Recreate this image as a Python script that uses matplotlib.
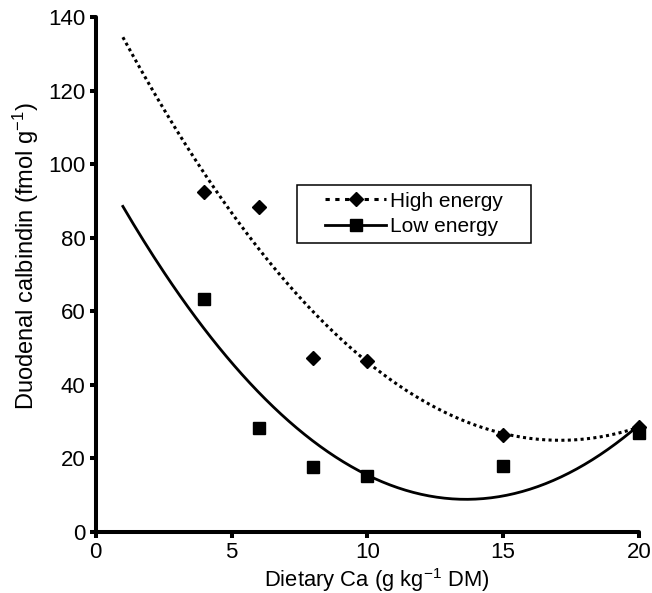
import numpy as np
import matplotlib
matplotlib.use("Agg")
import matplotlib.pyplot as plt
from matplotlib.patches import Rectangle

plt.rcParams['font.family'] = ['Liberation Sans', 'DejaVu Sans']
plt.rcParams['mathtext.fontset'] = 'custom'
plt.rcParams['mathtext.rm'] = 'Liberation Sans'
plt.rcParams['mathtext.it'] = 'Liberation Sans:italic'

# dietary Ca levels (g/kg DM)
ca_levels = [4, 6, 8, 10, 15, 20]
# duodenal calbindin (fmol/g)
high_energy = [92.5, 88.3, 47.3, 46.3, 26.3, 28.6]
low_energy = [63.3, 28.3, 17.5, 15.2, 17.8, 26.8]

# quadratic fits, coefficients highest power first
high_fit = [0.4232, -14.47, 148.55]
low_fit = [0.499, -13.61, 101.6]
fit_range = (1, 20)

fig = plt.figure(figsize=(6.52, 5.93), dpi=100)
ax = fig.add_axes([0.1468, 0.1034, 0.8332, 0.8679])

xs = np.linspace(fit_range[0], fit_range[1], 200)
ax.plot(xs, np.polyval(high_fit, xs), color='black', lw=2.2,
        linestyle=(0, (1, 1.1)), dash_capstyle='butt')
ax.plot(xs, np.polyval(low_fit, xs), color='black', lw=2.0)

ax.plot(ca_levels, high_energy, 'D', color='black', ms=7, clip_on=False)
ax.plot(ca_levels, low_energy, 's', color='black', ms=8, clip_on=False)

# legend box drawn separately so the side padding can be wider than the top
box = (0.371, 0.5615, 0.43, 0.1125)
ax.add_patch(Rectangle(box[:2], box[2], box[3], transform=ax.transAxes,
                       facecolor='white', edgecolor='black', lw=1.1, zorder=4))

h_high, = ax.plot([], [], color='black', lw=2.2, linestyle=(0, (1.4, 1.8)),
                  dash_capstyle='butt', marker='D', ms=7)
h_low, = ax.plot([], [], color='black', lw=2.0, marker='s', ms=8)
leg = ax.legend([h_high, h_low], ['High energy', 'Low energy'],
                loc='center',
                bbox_to_anchor=(box[0] + box[2] / 2, box[1] + box[3] / 2),
                fontsize=15, frameon=False, numpoints=1,
                handlelength=2.9, handletextpad=0.2, labelspacing=0.3,
                borderpad=0, borderaxespad=0)
leg.set_zorder(5)

ax.set_xlim(0, 20)
ax.set_ylim(0, 140)
ax.set_xticks([0, 5, 10, 15, 20])
ax.set_yticks(range(0, 141, 20))

for side in ['top', 'right']:
    ax.spines[side].set_visible(False)
for side in ['left', 'bottom']:
    ax.spines[side].set_linewidth(2.9)
    ax.spines[side].set_capstyle('round')

ax.tick_params(axis='both', direction='out', length=4.5, width=2.9,
               labelsize=16, color='black')
ax.tick_params(axis='x', pad=3)
ax.tick_params(axis='y', pad=3)

ax.set_xlabel('Dietary Ca (g kg$^{-1}$ DM)', fontsize=15.8, labelpad=2, x=0.518)
ax.set_ylabel('Duodenal calbindin (fmol g$^{-1}$)', fontsize=17, labelpad=5, y=0.535)

fig.savefig('out.png', dpi=100)
